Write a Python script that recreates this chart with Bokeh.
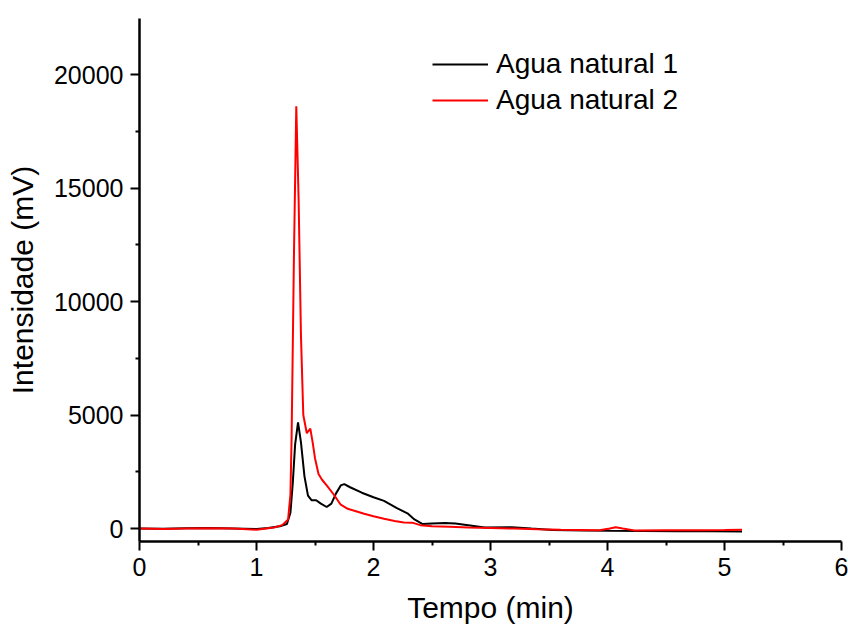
from bokeh.plotting import figure
from bokeh.models import FixedTicker, Range1d, Legend, LegendItem
from bokeh.embed import file_html
from bokeh.resources import INLINE

# Agua natural 1 (black)
t1 = [0.0, 0.2, 0.4, 0.6, 0.8, 1.0, 1.1, 1.2, 1.26, 1.29, 1.31, 1.33, 1.355, 1.38, 1.41,
      1.44, 1.47, 1.51, 1.55, 1.60, 1.64, 1.68, 1.72, 1.75, 1.80, 1.90, 2.00, 2.09, 2.20,
      2.29, 2.35, 2.42, 2.50, 2.61, 2.70, 2.81, 2.95, 3.18, 3.35, 3.53, 3.80, 4.02, 4.30,
      4.60, 4.90, 5.15]
y1 = [0, -10, 10, 20, 0, -20, 20, 100, 200, 700, 2000, 3700, 4680, 3800, 2300,
      1450, 1250, 1250, 1100, 950, 1100, 1550, 1900, 1960, 1820, 1580, 1380, 1220, 900,
      670, 400, 200, 220, 240, 220, 150, 50, 60, 0, -60, -90, -100, -110,
      -120, -120, -130]

# Agua natural 2 (red)
t2 = [0.0, 0.2, 0.4, 0.6, 0.8, 1.0, 1.15, 1.22, 1.27, 1.29, 1.30, 1.32, 1.34, 1.36, 1.38,
      1.40, 1.43, 1.46, 1.48, 1.50, 1.53, 1.56, 1.60, 1.66, 1.72, 1.78, 1.85, 1.92, 2.00,
      2.09, 2.18, 2.26, 2.33, 2.40, 2.50, 2.65, 2.81, 3.00, 3.20, 3.40, 3.60, 3.93, 4.02,
      4.07, 4.13, 4.23, 4.50, 4.80, 5.00, 5.15]
y2 = [0, -20, 0, 10, 0, -50, 50, 150, 400, 1500, 4000, 12000, 18600, 14500, 8500,
      5000, 4200, 4400, 3800, 3100, 2400, 2150, 1900, 1500, 1050, 870, 760, 650, 540,
      430, 330, 270, 260, 150, 100, 80, 50, 30, 0, -30, -50, -70, 0,
      60, 0, -80, -70, -70, -60, -50]

x_ticks = [0, 1, 2, 3, 4, 5, 6]
x_minor = [0.5, 1.5, 2.5, 3.5, 4.5, 5.5]
y_ticks = [0, 5000, 10000, 15000, 20000]
y_minor = [2500, 7500, 12500, 17500]
series_names = ["Agua natural 1", "Agua natural 2"]
x_title = "Tempo (min)"
y_title = "Intensidade (mV)"

FONT = "Liberation Sans"

p = figure(width=848, height=630, output_backend="svg", toolbar_location=None,
           x_range=Range1d(0, 6), y_range=Range1d(-570, 22470),
           min_border_left=139, min_border_right=7, min_border_top=18,
           min_border_bottom=89)
p.outline_line_color = None
p.grid.visible = False
p.background_fill_color = "white"
p.border_fill_color = "white"

r1 = p.line(t1, y1, line_color="black", line_width=2)
r2 = p.line(t2, y2, line_color="#ff0000", line_width=2)

for ax, ticks, minor in ((p.xaxis[0], x_ticks, x_minor), (p.yaxis[0], y_ticks, y_minor)):
    ax.ticker = FixedTicker(ticks=ticks, minor_ticks=minor)
    ax.axis_line_width = 2.5
    ax.axis_line_color = "black"
    ax.major_tick_line_width = 2
    ax.minor_tick_line_width = 2
    ax.major_tick_out = 9
    ax.major_tick_in = 0
    ax.minor_tick_out = 4
    ax.minor_tick_in = 0
    ax.major_label_text_font = FONT
    ax.major_label_text_font_size = "25px"
    ax.major_label_text_color = "black"
    ax.axis_label_text_font = FONT
    ax.axis_label_text_font_size = "30px"
    ax.axis_label_text_font_style = "normal"
    ax.axis_label_text_color = "black"

p.xaxis.axis_label = x_title
p.yaxis.axis_label = y_title
p.xaxis.major_label_standoff = 7
p.yaxis.major_label_standoff = 7
p.xaxis.axis_label_standoff = 12
p.yaxis.axis_label_standoff = 12

legend = Legend(items=[LegendItem(label=series_names[0], renderers=[r1]),
                       LegendItem(label=series_names[1], renderers=[r2])],
                location=(293, 423))
legend.label_text_font = FONT
legend.label_text_font_size = "28px"
legend.label_text_color = "black"
legend.glyph_width = 56
legend.glyph_height = 36
legend.label_height = 36
legend.spacing = 0
legend.padding = 0
legend.margin = 0
legend.label_standoff = 8
legend.border_line_color = None
legend.background_fill_alpha = 0
p.add_layout(legend)

open("out.html", "w").write(file_html(p, INLINE))
